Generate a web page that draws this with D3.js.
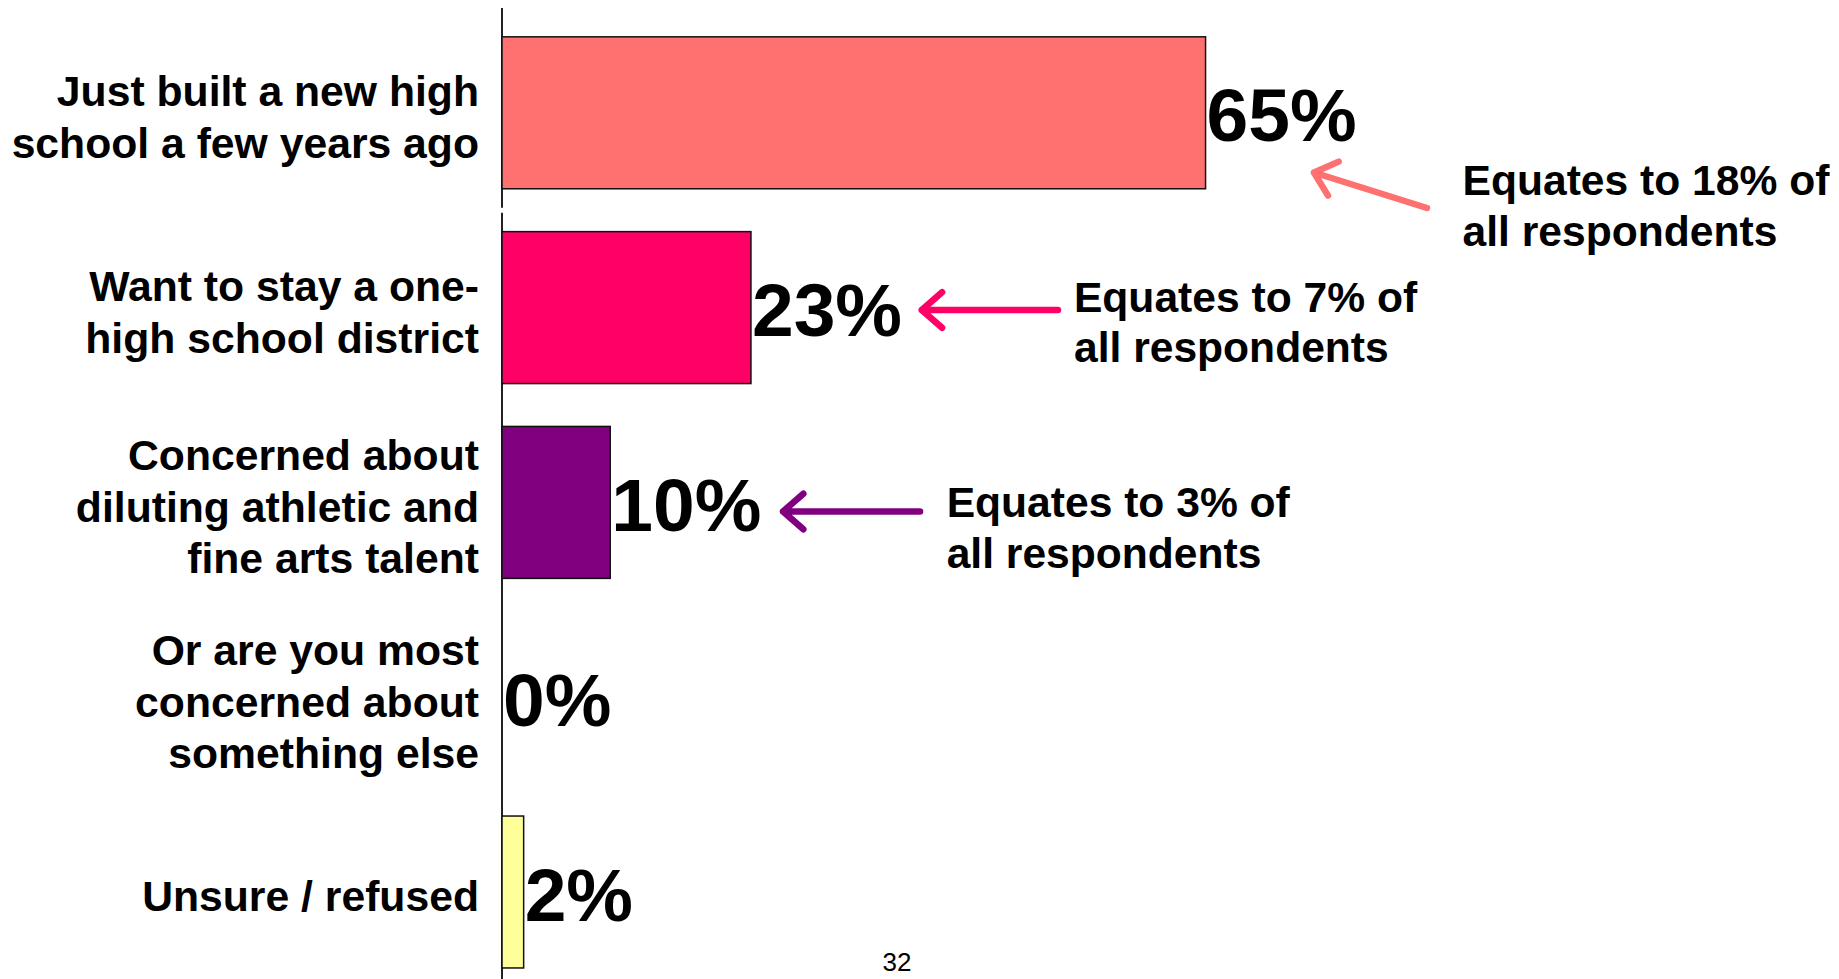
<!DOCTYPE html>
<html>
<head>
<meta charset="utf-8">
<script src="https://cdn.jsdelivr.net/npm/d3@7"></script>
<style>
  html, body { margin: 0; padding: 0; background: #fff; }
  svg { display: block; font-family: "Liberation Sans", Arial, sans-serif; }
</style>
</head>
<body>
<svg id="chart" width="1839" height="979"></svg>
<script>
// ---- data ----
const categories = [
  "Just built a new high\nschool a few years ago",
  "Want to stay a one-\nhigh school district",
  "Concerned about\ndiluting athletic and\nfine arts talent",
  "Or are you most\nconcerned about\nsomething else",
  "Unsure / refused"
];
const values = [65, 23, 10, 0, 2];
const valueLabels = ["65%", "23%", "10%", "0%", "2%"];
const barColors = ["#FF7070", "#FF0066", "#800080", "#FFFFFF", "#FFFF99"];
const annotationRows = [0, 1, 2];
const annotationTexts = [
  ["Equates to 18% of", "all respondents"],
  ["Equates to 7% of", "all respondents"],
  ["Equates to 3% of", "all respondents"]
];
const pageNumber = "32";

// ---- layout ----
const W = 1839, H = 979;
const svg = d3.select("#chart");

const x = d3.scaleLinear().domain([0, 100]).range([502, 1584.4]);
const y = d3.scaleBand().domain(categories).range([15.4, 989.4])
  .paddingInner(0.22).paddingOuter(0.11);

// axis line (with the small break between the first two rows)
const gapMid = (y(categories[0]) + y.bandwidth() + y(categories[1])) / 2;
const axisG = svg.append("g");
axisG.append("line").attr("x1", x(0)).attr("x2", x(0)).attr("y1", 8).attr("y2", gapMid - 2.5)
  .attr("stroke", "#222").attr("stroke-width", 2);
axisG.append("line").attr("x1", x(0)).attr("x2", x(0)).attr("y1", gapMid + 2.5).attr("y2", H)
  .attr("stroke", "#222").attr("stroke-width", 2);

// bars
svg.append("g").selectAll("rect")
  .data(categories.map((c, i) => ({ c, v: values[i], col: barColors[i] })).filter(d => d.v > 0))
  .join("rect")
  .attr("x", x(0))
  .attr("y", d => y(d.c))
  .attr("width", d => x(d.v) - x(0))
  .attr("height", y.bandwidth())
  .attr("fill", d => d.col)
  .attr("stroke", "#111")
  .attr("stroke-width", 1.5);

// value labels
svg.append("g").selectAll("text")
  .data(categories.map((c, i) => ({ c, v: values[i], t: valueLabels[i] })))
  .join("text")
  .attr("x", d => x(d.v) + 1)
  .attr("y", d => y(d.c) + y.bandwidth() / 2)
  .attr("dy", "0.38em")
  .attr("font-size", 75)
  .attr("font-weight", "bold")
  .attr("fill", "#000")
  .text(d => d.t);

// category labels
const lineH = 51.5;
svg.append("g").selectAll("text")
  .data(categories)
  .join("text")
  .attr("text-anchor", "end")
  .attr("font-size", 42.7)
  .attr("font-weight", "bold")
  .attr("fill", "#000")
  .each(function (c) {
    const lines = c.split("\n");
    const cy = y(c) + y.bandwidth() / 2 + 4;
    const t = d3.select(this);
    lines.forEach((ln, k) => {
      t.append("tspan")
        .attr("x", 479)
        .attr("y", cy + (k - (lines.length - 1) / 2) * lineH)
        .attr("dy", "0.36em")
        .text(ln);
    });
  });

// annotations (offsets relative to bar end / row centre)
const annLayout = [
  { tip: [108.4, 59.7], tail: [221.4, 95.2], text: [257, 82.2] },
  { tip: [170.8, 2.4], tail: [307, 2.4], text: [323, 4.1] },
  { tip: [172.8, 9.1], tail: [309.8, 9.1], text: [336.4, 14.6] }
];
annotationRows.forEach((r, i) => {
  const bx = x(values[r]);
  const cy = y(categories[r]) + y.bandwidth() / 2;
  const L = annLayout[i];
  const tip = [bx + L.tip[0], cy + L.tip[1]];
  const tail = [bx + L.tail[0], cy + L.tail[1]];
  const ang = Math.atan2(tail[1] - tip[1], tail[0] - tip[0]);
  const len = 27, spread = 0.72;
  const a1 = [tip[0] + len * Math.cos(ang - spread), tip[1] + len * Math.sin(ang - spread)];
  const a2 = [tip[0] + len * Math.cos(ang + spread), tip[1] + len * Math.sin(ang + spread)];
  const col = barColors[r];
  svg.append("path")
    .attr("d", `M${tail[0]},${tail[1]}L${tip[0]},${tip[1]}M${a1[0]},${a1[1]}L${tip[0]},${tip[1]}L${a2[0]},${a2[1]}`)
    .attr("fill", "none").attr("stroke", col).attr("stroke-width", 6.5)
    .attr("stroke-linecap", "round").attr("stroke-linejoin", "round");
  const t = svg.append("text")
    .attr("font-size", 42.6).attr("font-weight", "bold").attr("fill", "#000");
  annotationTexts[i].forEach((ln, k) => {
    t.append("tspan").attr("x", bx + L.text[0]).attr("y", cy + L.text[1] + k * 50.5).text(ln);
  });
});

// page number
svg.append("text")
  .attr("x", 897).attr("y", 970.5)
  .attr("text-anchor", "middle")
  .attr("font-size", 26)
  .attr("fill", "#000")
  .text(pageNumber);
</script>
</body>
</html>
